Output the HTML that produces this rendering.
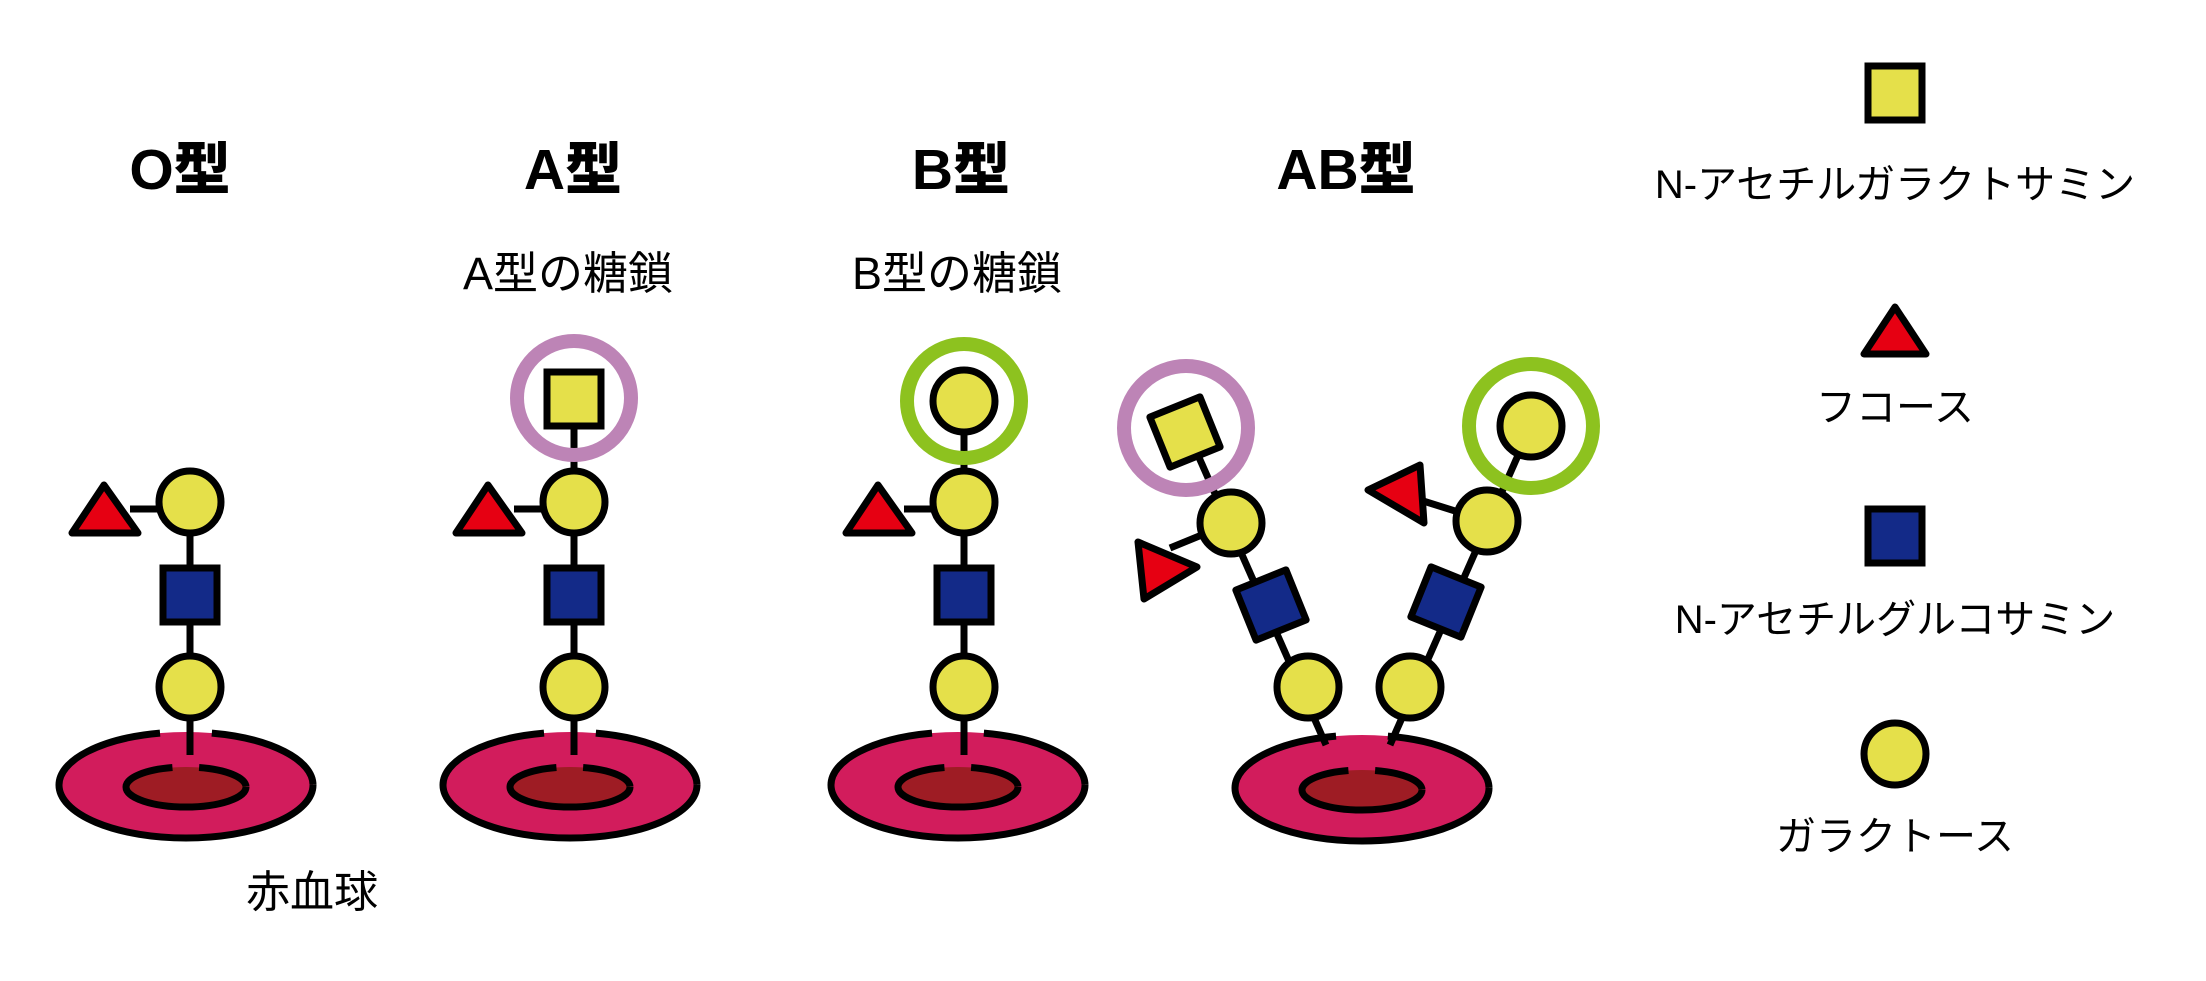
<!DOCTYPE html>
<html><head><meta charset="utf-8"><style>
html,body{margin:0;padding:0;background:#fff;}
svg{display:block}
text{font-family:"Liberation Sans","Noto Sans CJK JP",sans-serif;fill:#000;text-anchor:middle}
.t{font-size:57px;font-weight:900}
.s{font-size:45px}
.r{font-size:44px}
.l{font-size:40px}
</style></head><body>
<svg width="2206" height="981" viewBox="0 0 2206 981" xmlns="http://www.w3.org/2000/svg">
<defs>
<g id="cell">
 <ellipse cx="0" cy="0" rx="127" ry="53" fill="#d21c5c" stroke="#000" stroke-width="7" pathLength="1000" stroke-dasharray="706 88 206"/>
 <ellipse cx="0" cy="2" rx="60" ry="20" fill="#9e1c24" stroke="#000" stroke-width="7" pathLength="1000" stroke-dasharray="700 100 200"/>
</g>
<g id="chain">
 <line x1="0" y1="502" x2="0" y2="755" stroke="#000" stroke-width="7"/>
 <line x1="-60" y1="509" x2="0" y2="509" stroke="#000" stroke-width="7"/>
 <polygon points="-86,485 -118,533 -52,533" fill="#e60012" stroke="#000" stroke-width="7" stroke-linejoin="round"/>
 <circle cx="0" cy="502" r="31" fill="#e5e04a" stroke="#000" stroke-width="7"/>
 <rect x="-27" y="568" width="54" height="54" fill="#132a88" stroke="#000" stroke-width="7"/>
 <circle cx="0" cy="687" r="31" fill="#e5e04a" stroke="#000" stroke-width="7"/>
</g>
</defs>

<text class="t" x="180" y="189">O型</text>
<text class="t" x="573" y="189">A型</text>
<text class="t" x="961" y="189">B型</text>
<text class="t" x="1346" y="189">AB型</text>
<text class="s" x="568" y="289">A型の糖鎖</text>
<text class="s" x="957" y="289">B型の糖鎖</text>
<text class="r" x="312" y="907">赤血球</text>

<use href="#cell" x="186" y="785"/>
<use href="#chain" x="190" y="0"/>

<use href="#cell" x="570" y="785"/>
<line x1="574" y1="400" x2="574" y2="502" stroke="#000" stroke-width="7"/>
<circle cx="574" cy="398" r="57" fill="none" stroke="#bd84b6" stroke-width="14"/>
<use href="#chain" x="574" y="0"/>
<rect x="547" y="372" width="54" height="54" fill="#e5e04a" stroke="#000" stroke-width="7"/>

<use href="#cell" x="958" y="785"/>
<line x1="964" y1="401" x2="964" y2="502" stroke="#000" stroke-width="7"/>
<circle cx="964" cy="401" r="57" fill="none" stroke="#8dc21f" stroke-width="14"/>
<use href="#chain" x="964" y="0"/>
<circle cx="964" cy="401" r="31" fill="#e5e04a" stroke="#000" stroke-width="7"/>

<use href="#cell" x="1362" y="788"/>
<g stroke="#000" stroke-width="7">
 <line x1="1186" y1="428" x2="1326" y2="745"/>
 <line x1="1531" y1="426" x2="1390" y2="745"/>
 <line x1="1231" y1="523" x2="1170" y2="548"/>
 <line x1="1487" y1="521" x2="1420" y2="500"/>
</g>
<circle cx="1186" cy="428" r="62" fill="none" stroke="#bd84b6" stroke-width="14"/>
<circle cx="1531" cy="426" r="62" fill="none" stroke="#8dc21f" stroke-width="14"/>
<g stroke="#000" stroke-width="7" stroke-linejoin="round">
 <polygon points="1138,542 1197,567 1144,599" fill="#e60012"/>
 <polygon points="1368,490 1420,465 1424,523" fill="#e60012"/>
 <circle cx="1231" cy="523" r="31" fill="#e5e04a"/>
 <circle cx="1308" cy="687" r="31" fill="#e5e04a"/>
 <circle cx="1487" cy="521" r="31" fill="#e5e04a"/>
 <circle cx="1410" cy="687" r="31" fill="#e5e04a"/>
 <circle cx="1531" cy="426" r="31" fill="#e5e04a"/>
 <rect x="-27" y="-27" width="54" height="54" fill="#e5e04a" transform="translate(1185,432) rotate(-22)"/>
 <rect x="-27" y="-27" width="54" height="54" fill="#132a88" transform="translate(1271,605) rotate(-22)"/>
 <rect x="-27" y="-27" width="54" height="54" fill="#132a88" transform="translate(1446,602) rotate(22)"/>
</g>

<rect x="1868" y="66" width="54" height="54" fill="#e5e04a" stroke="#000" stroke-width="7"/>
<text class="l" x="1895" y="198">N-アセチルガラクトサミン</text>
<polygon points="1895,307 1864,354 1926,354" fill="#e60012" stroke="#000" stroke-width="7" stroke-linejoin="round"/>
<text class="l" x="1895" y="421">フコース</text>
<rect x="1868" y="509" width="54" height="54" fill="#132a88" stroke="#000" stroke-width="7"/>
<text class="l" x="1895" y="633">N-アセチルグルコサミン</text>
<circle cx="1895" cy="754" r="31" fill="#e5e04a" stroke="#000" stroke-width="7"/>
<text class="l" x="1895" y="850">ガラクトース</text>
</svg>
</body></html>
